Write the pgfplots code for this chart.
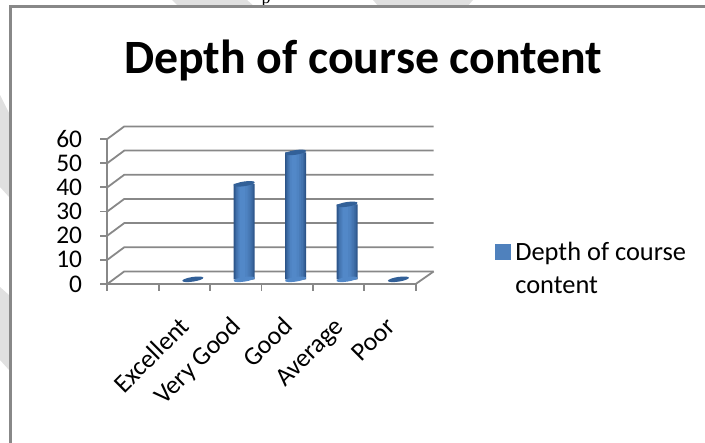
\documentclass[border=0pt]{standalone}
\usepackage{pgfplots}
\pgfplotsset{compat=1.18}
\usepackage{fontspec}
\setmainfont{Carlito}
\newfontfamily\serifp{Liberation Serif}
\definecolor{axgray}{RGB}{136,136,136}
\definecolor{wm}{RGB}{224,224,224}
\definecolor{barmid}{RGB}{82,136,200}
\definecolor{baredge}{RGB}{44,84,136}
\definecolor{capc}{RGB}{50,96,152}
\definecolor{legc}{RGB}{79,129,189}
\pgfdeclareplotmark{capmark}{\pgfpathellipse{\pgfpointorigin}{\pgfqpoint{10.5bp}{1.6bp}}{\pgfqpoint{-0.4bp}{2.3bp}}\pgfusepath{fill}}
\def\barvals{(2,39.5) (3,52.5) (4,31)}
\begin{document}
\begin{tikzpicture}[x=1bp,y=1bp]
\path[use as bounding box] (0,0) rectangle (705,443);
\begin{scope}
\clip (0,0) rectangle (705,443);
\fill[wm] (172,443) -- (247,443) -- (255,436) -- (179,436) -- cycle;
\fill[wm] (373,443) -- (473,443) -- (467,436) -- (379,436) -- cycle;
\fill[wm] (0,348) -- (9,330) -- (9,246) -- (0,256) -- cycle;
\fill[wm] (0,156) -- (9,148) -- (9,73) -- (0,83) -- cycle;
\node[font=\fontsize{18}{18}\selectfont\serifp, anchor=base, inner sep=0pt] at (266,439) {p};
\fill[white] (11,0) rectangle (705,435);
\draw[axgray, line width=2.4bp] (10.5,0) -- (10.5,436.5) -- (705,436.5);
\end{scope}
\begin{axis}[
  at={(107.3bp,159bp)}, anchor=south west,
  scale only axis, width=308.4bp, height=145bp,
  xmin=-0.5, xmax=5.5, ymin=0, ymax=60,
  clip=false,
  axis x line*=bottom, axis y line*=left,
  axis line style={axgray, line width=1.8bp, -},
  xtick={-0.5,0.5,1.5,2.5,3.5,4.5,5.5}, xticklabels={},
  extra x ticks={1,2,3,4,5},
  extra x tick labels={Excellent,Very Good,Good,Average,Poor},
  extra x tick style={major tick length=0pt, tick label style={rotate=45, anchor=north east, font=\fontsize{26}{26}\selectfont}},
  ytick={0,10,20,30,40,50,60},
  tick style={axgray, line width=1.8bp},
  tick align=outside, major tick length=7bp,
  typeset ticklabels with strut,
  tick label style={font=\fontsize{25.5}{25.5}\selectfont, /pgf/number format/assume math mode=true, black},
  y tick label style={inner sep=0pt, xshift=-18bp, yshift=-3bp},
  x tick label style={yshift=-14bp, xshift=-23bp},
  title={\textbf{Depth of course content}},
  title style={at={(axis description cs:0.83,1.41)}, anchor=base, inner sep=0pt, font=\fontsize{48}{48}\selectfont},
  legend style={at={(axis description cs:1.257,0.305)}, anchor=north west, draw=none, fill=none,
    inner sep=0pt, outer sep=0pt, font=\fontsize{26.5}{26.5}\selectfont, row sep=11bp,
    cells={anchor=west}},
  legend cell align=left,
]
\addlegendimage{area legend, legend image code/.code={\fill[legc] (0bp,-7.5bp) rectangle (15bp,7.5bp); \path (18bp,0bp);}}
\addlegendentry{Depth of course}
\addlegendimage{empty legend}
\addlegendentry{content}
% wall grid lines
\foreach \v in {0,10,20,30,40,50,60} {
  \edef\tmp{\noexpand\addplot[axgray, line width=1.8bp, forget plot] coordinates {(-0.5,\v) (-0.17,\v+5.2) (5.85,\v+5.2)};}
  \tmp
}
\addplot[axgray, line width=1.8bp, forget plot] coordinates {(5.5,0) (5.85,5.2)};
% bar bases
\addplot[only marks, mark=capmark, barmid, xshift=8.4bp, yshift=4.7bp, forget plot] coordinates {(2,0) (3,0) (4,0)};
% bars: nested layers give the cylinder its shading
\foreach \w/\c/\s in {21/0/0, 19/22/0, 17/42/0, 15/60/-0.3, 12/75/-0.6, 9/90/-1, 5/100/-1.5} {
  \edef\tmp{\noexpand\addplot[ybar, bar width=\w bp, bar shift=\s bp, draw=none, fill=barmid!\c!baredge, xshift=8.4bp, yshift=4.7bp, forget plot] coordinates {\barvals};}
  \tmp
}
% caps
\addplot[only marks, mark=capmark, capc, xshift=8.4bp, yshift=4.7bp, forget plot] coordinates {(1,0) (2,39.5) (3,52.5) (4,31) (5,0)};
\end{axis}
\end{tikzpicture}
\end{document}
